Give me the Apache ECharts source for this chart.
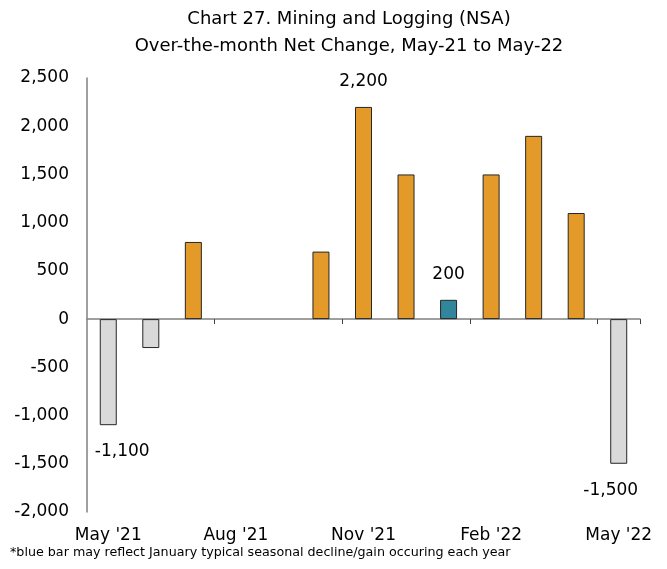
<!DOCTYPE html>
<html>
<head>
<meta charset="utf-8">
<script src="https://cdn.jsdelivr.net/npm/echarts@6/dist/echarts.min.js"></script>
<style>
  html, body { margin: 0; padding: 0; background: #fff; }
  #chart { width: 667px; height: 569px; }
</style>
</head>
<body>
<div id="chart"></div>
<script>
// months from May '21 to May '22
const months = ["May '21", "Jun '21", "Jul '21", "Aug '21", "Sep '21", "Oct '21", "Nov '21",
  "Dec '21", "Jan '22", "Feb '22", "Mar '22", "Apr '22", "May '22"];
const netChange = [-1100, -300, 800, 0, 0, 700, 2200, 1500, 200, 1500, 1900, 1100, -1500];
// which bars carry a value label
const labelled = ["May '21", "Nov '21", "Jan '22", "May '22"];
const blueMonth = "Jan '22";

const FONT = "DejaVu Sans";

function fmt(v) {
    return v.toLocaleString("en-US");
}

const barData = netChange.map(function (v, i) {
    let color = "#E49A28";
    if (months[i] === blueMonth) color = "#31869B";
    else if (v < 0) color = "#D9D9D9";
    const item = {
        value: v,
        itemStyle: { color: color, borderColor: "#262626", borderWidth: v === 0 ? 0 : 1 },
    };
    if (labelled.indexOf(months[i]) >= 0) {
        item.label = {
            show: true,
            position: v < 0 ? "bottom" : "top",
            distance: v < 0 ? 18 : 17,
            offset: i === 0 ? [14, 0] : (i === months.length - 1 ? [-8, 0] : [0, 0]),
        };
    }
    return item;
});

const chart = echarts.init(document.getElementById("chart"));
chart.setOption({
    backgroundColor: "#fff",
    animation: false,
    textStyle: { fontFamily: FONT },
    title: {
        text: "Chart 27. Mining and Logging (NSA)\nOver-the-month Net Change, May-21 to May-22",
        left: 344,
        textAlign: "center",
        top: 1,
        textStyle: {
            fontFamily: FONT,
            fontSize: 18,
            fontWeight: "normal",
            color: "#000",
            lineHeight: 27,
        },
    },
    grid: { left: 87, right: 27, top: 78, bottom: 57 },
    xAxis: [
        {
            type: "category",
            data: months,
            axisLine: { onZero: true, lineStyle: { color: "#808080", width: 1.5 } },
            axisTick: {
                show: true,
                interval: function (idx) { return idx > 0 && idx % 3 === 0; },
                length: 5,
                lineStyle: { color: "#404040" },
            },
            axisLabel: { show: false },
        },
        {
            type: "category",
            data: months,
            position: "bottom",
            axisLine: { show: false, onZero: false },
            axisTick: { show: false },
            axisLabel: {
                interval: 2,
                margin: 15,
                color: "#000",
                fontSize: 17,
                fontFamily: FONT,
            },
        },
    ],
    yAxis: {
        type: "value",
        min: -2000,
        max: 2500,
        interval: 500,
        axisLine: { show: true, lineStyle: { color: "#808080", width: 1.5 } },
        axisTick: { show: false },
        splitLine: { show: false },
        axisLabel: {
            margin: 18,
            color: "#000",
            fontSize: 17,
            fontFamily: FONT,
            formatter: fmt,
        },
    },
    graphic: [
        {
            type: "text",
            left: 10,
            top: 546,
            style: {
                text: "*blue bar may reflect January typical seasonal decline/gain occuring each year",
                fontFamily: FONT,
                fontSize: 12.7,
                fill: "#000",
            },
        },
    ],
    series: [
        {
            type: "bar",
            xAxisIndex: 0,
            data: barData,
            barWidth: 17,
            label: {
                show: false,
                color: "#000",
                fontSize: 17,
                fontFamily: FONT,
                formatter: function (p) { return fmt(p.value); },
            },
        },
    ],
});
</script>
</body>
</html>
